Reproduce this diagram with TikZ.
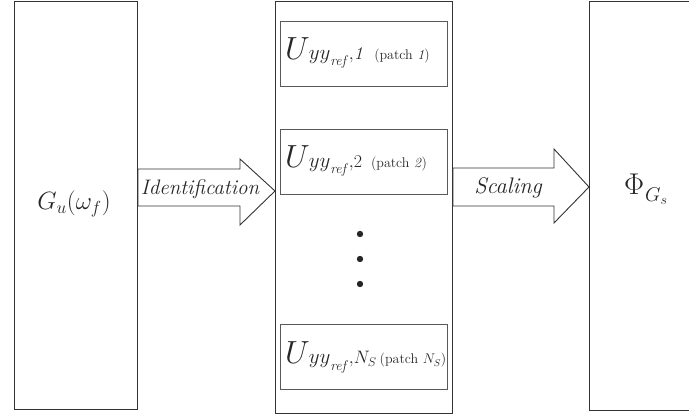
\RequirePackage{fix-cm}
\documentclass[tikz,border=0pt]{standalone}
\usepackage{amsmath}
\newcommand{\ulabel}[3]{{\fontsize{32}{32}\selectfont$U$}\kern-1pt{\fontsize{21}{21}\selectfont$yy$}\raisebox{-6pt}{\fontsize{14}{14}\selectfont$\mathit{ref}$}{\fontsize{18}{18}\selectfont${,}#1$}\hspace{#2}{\fontsize{14}{16}\selectfont #3}}
\begin{document}
\begin{tikzpicture}[x=1pt,y=-1pt,
  outer/.style={draw=black!80,line width=1pt},
  inner/.style={draw=black!65,line width=0.9pt},
  blockarrow/.style={draw=black!80,line width=0.9pt,fill=white,line join=miter},
  lbl/.style={font=\fontsize{17}{20}\selectfont,text=black!85},
  dotst/.style={fill=black!85,draw=none}]
\useasboundingbox (0,0) rectangle (689,414);
\clip (0,0) rectangle (689,414);
% outer boxes
\node[outer,minimum width=123pt,minimum height=408pt,anchor=north west,inner sep=0pt] (L) at (14,1) {};
\node[outer,minimum width=177pt,minimum height=412pt,anchor=north west,inner sep=0pt] (M) at (275,1) {};
\node[outer,minimum width=120pt,minimum height=409pt,anchor=north west,inner sep=0pt] (R) at (589,1) {};
% inner boxes
\node[inner,minimum width=167pt,minimum height=65pt,anchor=north west,inner sep=0pt] (B1) at (280,21) {};
\node[inner,minimum width=167pt,minimum height=65pt,anchor=north west,inner sep=0pt] (B2) at (280,129) {};
\node[inner,minimum width=167pt,minimum height=65pt,anchor=north west,inner sep=0pt] (B3) at (280,324) {};
% arrows
\draw[blockarrow] (L.east |- 0,169) -- (240,169) -- (240,159) -- (M.west |- 0,191) -- (240,225) -- (240,206) -- (L.east |- 0,206) -- cycle;
\draw[blockarrow] (M.east |- 0,168) -- (554,168) -- (554,149) -- (R.west |- 0,187) -- (554,223) -- (554,206) -- (M.east |- 0,206) -- cycle;
% labels
\node[lbl,font=\fontsize{25}{28}\selectfont] (gl) at (74,204) {$G_u(\omega_f)$};
\node[lbl,font=\fontsize{21}{24}\selectfont\itshape] (il) at (200,189) {Identification};
\node[lbl,font=\fontsize{22.5}{24}\selectfont\itshape] (sl) at (508,188) {Scaling};
\node[lbl,anchor=base west,inner sep=0pt] (pl) at (624,195) {{\fontsize{30}{30}\selectfont$\Phi$}\kern1pt\raisebox{-7pt}{\fontsize{20}{20}\selectfont$G_s$}};
\node[lbl,anchor=base west,inner sep=0pt] (t1) at (285,60) {\ulabel{\mathit{1}}{9pt}{(patch \textit{1})}};
\node[lbl,anchor=base west,inner sep=0pt] (t2) at (285,168) {\ulabel{2}{9pt}{(patch \textit{2})}};
\node[lbl,anchor=base west,inner sep=0pt] (t3) at (285,364) {\ulabel{N_S}{3pt}{(patch $N_S$)}};
% dots
\fill[dotst] (360,234) circle (3.2pt) (360,259) circle (3.2pt) (360,284) circle (3.2pt);
\end{tikzpicture}
\end{document}
